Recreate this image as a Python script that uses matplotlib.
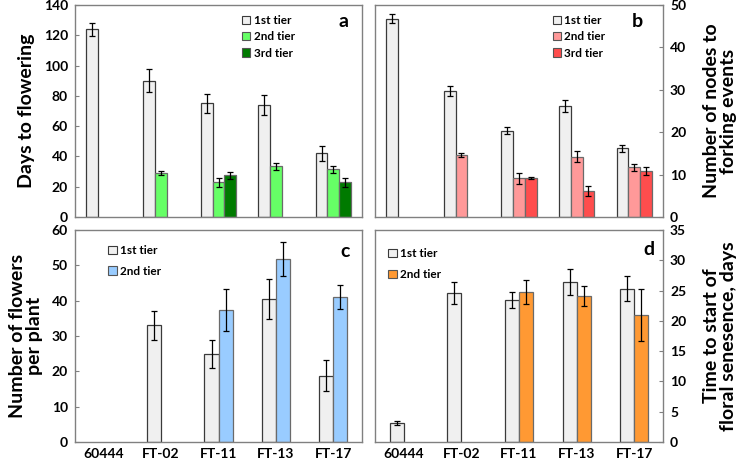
import numpy as np
import matplotlib
matplotlib.use('Agg')
import matplotlib.pyplot as plt
from matplotlib.patches import Patch

plt.rcParams['font.family'] = ['Lato', 'DejaVu Sans']
plt.rcParams['font.weight'] = 'bold'

nan = np.nan
cats = ['60444', 'FT-02', 'FT-11', 'FT-13', 'FT-17']

# a: days to flowering
a1 = [124, 90, 75, 74, 42]
a1_err = [4.5, 7.5, 6.5, 6.5, 5.0]
a2 = [nan, 29, 23, 33.5, 31.5]
a2_err = [nan, 1.5, 3.0, 2.5, 2.5]
a3 = [nan, nan, 27.5, nan, 23]
a3_err = [nan, nan, 2.5, nan, 3.0]

# b: nodes to forking events
b1 = [46.8, 29.7, 20.4, 26.1, 16.2]
b1_err = [1.1, 1.2, 0.9, 1.4, 0.9]
b2 = [nan, 14.6, 9.1, 14.2, 11.7]
b2_err = [nan, 0.5, 1.3, 1.3, 0.8]
b3 = [nan, nan, 9.2, 6.2, 10.9]
b3_err = [nan, nan, 0.3, 1.2, 1.0]

# c: flowers per plant
c1 = [nan, 33, 24.9, 40.4, 18.8]
c1_err = [nan, 4.0, 4.0, 5.7, 4.5]
c2 = [nan, nan, 37.3, 51.8, 41.0]
c2_err = [nan, nan, 6.0, 4.8, 3.3]

# d: time to floral senescence
d1 = [3.1, 24.6, 23.5, 26.4, 25.3]
d1_err = [0.3, 1.8, 1.3, 2.1, 2.1]
d2 = [nan, nan, 24.8, 24.1, 21.0]
d2_err = [nan, nan, 2.0, 1.6, 4.3]

first_color = '#f0f0f0'
tiers = ['1st tier', '2nd tier', '3rd tier']

fig = plt.figure(figsize=(7.45, 4.65), dpi=100)

ax_a = fig.add_axes([0.1007, 0.5333, 0.3853, 0.4557])
ax_b = fig.add_axes([0.5034, 0.5333, 0.3866, 0.4557])
ax_c = fig.add_axes([0.1007, 0.0495, 0.3853, 0.4559])
ax_d = fig.add_axes([0.5034, 0.0495, 0.3866, 0.4559])

x = np.arange(len(cats))


def draw_bars(ax, series, errs, colors, width, offsets):
    for vals, err, col, off in zip(series, errs, colors, offsets):
        vals = np.array(vals, dtype=float)
        err = np.array(err, dtype=float)
        ok = ~np.isnan(vals)
        ec = '#3a3a3a' if col == first_color else '#6a6a6a'
        ax.bar(x[ok] + off, vals[ok], width, color=col, edgecolor=ec, linewidth=0.9, zorder=2)
        ax.errorbar(x[ok] + off, vals[ok], yerr=err[ok], fmt='none', ecolor='black',
                    elinewidth=0.9, capsize=2.3, capthick=0.9, zorder=3)


def style(ax, ymax, step, right=False, show_x=False):
    ax.set_xlim(-0.5, len(cats) - 0.5)
    ax.set_ylim(0, ymax)
    ax.set_yticks(np.arange(0, ymax + step / 2, step))
    for s in ax.spines.values():
        s.set_color('#808080')
        s.set_linewidth(1.0)
    ax.tick_params(axis='y', direction='in', length=3, color='#808080', labelsize=10, pad=5)
    if right:
        ax.yaxis.tick_right()
    ax.tick_params(axis='x', length=0, labelsize=10, pad=4)
    if show_x:
        ax.set_xticks(x)
        ax.set_xticklabels(cats)
    else:
        ax.set_xticks([])
    for lab in ax.get_yticklabels() + ax.get_xticklabels():
        lab.set_fontweight('bold')


def legend(ax, colors, anchor, spacing):
    handles = [Patch(facecolor=c, edgecolor='#3a3a3a' if c == first_color else '#555555',
                     linewidth=0.8) for c in colors]
    ax.legend(handles, tiers[:len(colors)], loc='upper left', bbox_to_anchor=anchor,
              frameon=False, handlelength=0.7, handleheight=0.7, handletextpad=0.3,
              labelspacing=spacing, prop={'size': 8.5, 'weight': 'bold'}, borderaxespad=0)


w3 = 0.205
off3 = [-w3, 0, w3]
w2 = 0.245
off2 = [-w2 / 2, w2 / 2]

# panel a
draw_bars(ax_a, [a1, a2, a3], [a1_err, a2_err, a3_err],
          [first_color, '#66ff66', '#007a00'], w3, off3)
style(ax_a, 140, 20)
ax_a.set_ylabel('Days to flowering', fontsize=14, fontweight='bold', labelpad=6)
legend(ax_a, [first_color, '#66ff66', '#007a00'], (0.565, 0.975), 0.45)
ax_a.text(0.935, 0.925, 'a', transform=ax_a.transAxes, fontsize=14, fontweight='bold',
          ha='center', va='center')

# panel b
draw_bars(ax_b, [b1, b2, b3], [b1_err, b2_err, b3_err],
          [first_color, '#ff9999', '#ff4d4d'], w3, off3)
style(ax_b, 50, 10, right=True)
ax_b.yaxis.set_label_position('right')
ax_b.set_ylabel('Number of nodes to\nforking events', fontsize=14, fontweight='bold',
                rotation=90, labelpad=12, linespacing=1.0)
legend(ax_b, [first_color, '#ff9999', '#ff4d4d'], (0.6, 0.975), 0.45)
ax_b.text(0.91, 0.925, 'b', transform=ax_b.transAxes, fontsize=14, fontweight='bold',
          ha='center', va='center')

# panel c
draw_bars(ax_c, [c1, c2], [c1_err, c2_err], [first_color, '#99ccff'], w2, off2)
style(ax_c, 60, 10, show_x=True)
ax_c.set_ylabel('Number of flowers\nper plant', fontsize=14, fontweight='bold',
                labelpad=6, linespacing=1.0)
legend(ax_c, [first_color, '#99ccff'], (0.1, 0.95), 0.8)
ax_c.text(0.94, 0.9, 'c', transform=ax_c.transAxes, fontsize=14, fontweight='bold',
          ha='center', va='center')

# panel d
draw_bars(ax_d, [d1, d2], [d1_err, d2_err], [first_color, '#ff9933'], w2, off2)
style(ax_d, 35, 5, right=True, show_x=True)
ax_d.yaxis.set_label_position('right')
ax_d.set_ylabel('Time to start of\nfloral senesence, days', fontsize=14, fontweight='bold',
                rotation=90, labelpad=12, linespacing=1.0)
legend(ax_d, [first_color, '#ff9933'], (0.03, 0.935), 0.8)
ax_d.text(0.95, 0.91, 'd', transform=ax_d.transAxes, fontsize=14, fontweight='bold',
          ha='center', va='center')

fig.savefig('out.png', dpi=100)
